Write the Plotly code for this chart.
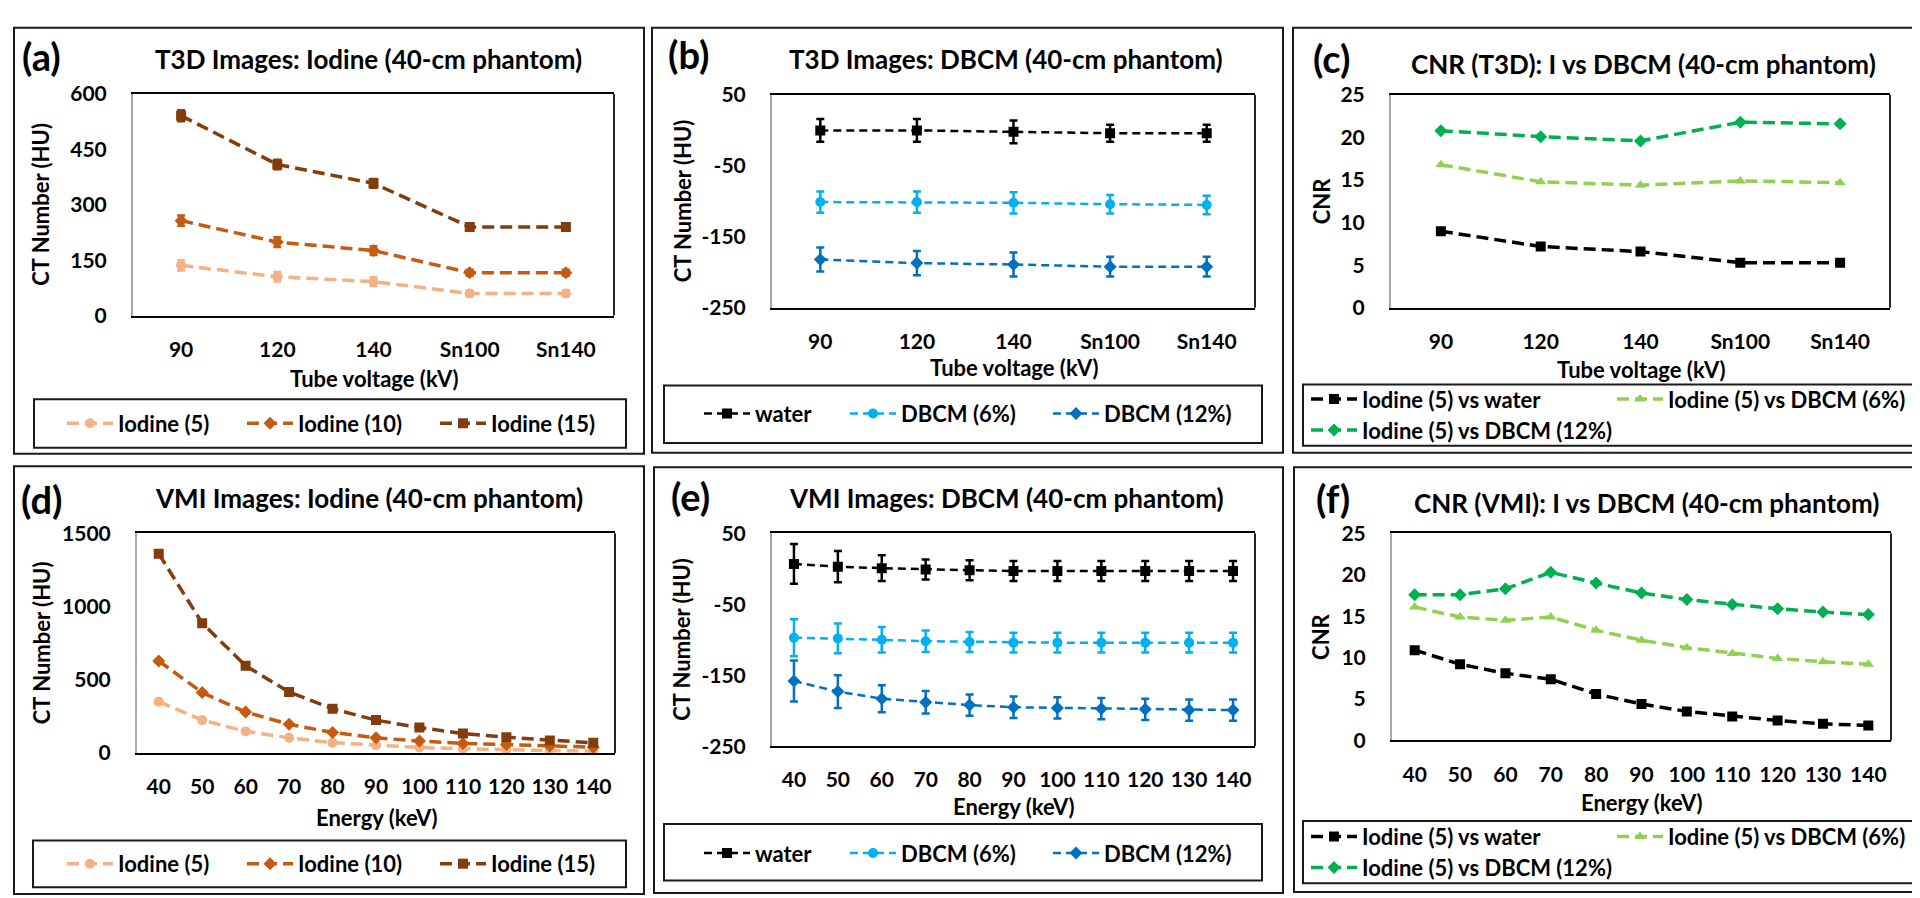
import plotly.graph_objects as go

# ---------------- data ----------------
kv_labels = ['90', '120', '140', 'Sn100', 'Sn140']
kev_labels = ['40', '50', '60', '70', '80', '90', '100', '110', '120', '130', '140']

# (a) T3D iodine
a_iodine5 = [136, 105, 92, 60, 60]
a_iodine10 = [257, 199, 176, 116, 116]
a_iodine15 = [541, 409, 358, 240, 240]
a_err5 = [14, 13, 12, 8, 8]
a_err10 = [14, 13, 12, 8, 8]
a_err15 = [15, 13, 12, 8, 8]

# (b) T3D DBCM
b_water = [0, 0, -2, -4, -4]
b_dbcm6 = [-101, -101, -102, -104, -105]
b_dbcm12 = [-182, -187, -189, -192, -192]
b_err_water = [16, 16, 16, 12, 12]
b_err6 = [15, 15, 15, 13, 13]
b_err12 = [17, 17, 17, 14, 14]

# (c) CNR T3D
c_water = [9.0, 7.2, 6.6, 5.3, 5.3]
c_dbcm6 = [16.8, 14.8, 14.4, 14.9, 14.7]
c_dbcm12 = [20.8, 20.1, 19.6, 21.8, 21.6]

# (d) VMI iodine
d_iodine5 = [351, 225, 148, 104, 71, 53, 38, 30, 22, 17, 13]
d_iodine10 = [629, 413, 280, 196, 141, 104, 82, 66, 58, 48, 40]
d_iodine15 = [1361, 887, 596, 417, 302, 225, 174, 133, 108, 86, 70]
d_err5 = [8, 6, 5, 4, 4, 3, 3, 3, 3, 3, 3]
d_err10 = [12, 9, 7, 6, 5, 4, 4, 4, 4, 4, 4]
d_err15 = [18, 12, 9, 7, 6, 5, 5, 5, 5, 5, 5]

# (e) VMI DBCM
e_water = [7, 3, 1, -1, -2, -3, -3, -3, -3, -3, -3]
e_dbcm6 = [-97, -98, -100, -102, -103, -104, -104, -104, -104, -104, -104]
e_dbcm12 = [-158, -173, -183, -188, -192, -195, -196, -197, -198, -199, -199]
e_err_water = [28, 22, 18, 14, 14, 14, 14, 14, 14, 14, 14]
e_err6 = [26, 21, 18, 15, 14, 14, 14, 14, 14, 14, 14]
e_err12 = [29, 23, 19, 16, 15, 15, 15, 15, 15, 15, 15]

# (f) CNR VMI
f_water = [10.9, 9.2, 8.1, 7.4, 5.6, 4.4, 3.5, 2.9, 2.4, 2.0, 1.8]
f_dbcm6 = [16.1, 14.9, 14.5, 14.9, 13.3, 12.1, 11.2, 10.5, 9.9, 9.5, 9.2]
f_dbcm12 = [17.6, 17.6, 18.3, 20.3, 19.0, 17.8, 17.0, 16.4, 15.9, 15.5, 15.2]

# y tick labels
ticks_a = [0, 150, 300, 450, 600]
ticks_b = [-250, -150, -50, 50]
ticks_cnr = [0, 5, 10, 15, 20, 25]
ticks_d = [0, 500, 1000, 1500]

iodine_names = ['Iodine (5)', 'Iodine (10)', 'Iodine (15)']
dbcm_names = ['water', 'DBCM (6%)', 'DBCM (12%)']
cnr_names = ['Iodine (5) vs water', 'Iodine (5) vs DBCM (6%)', 'Iodine (5) vs DBCM (12%)']

iodine_colors = ['#F4B183', '#C55A11', '#843C0C']
dbcm_colors = ['#000000', '#00B0F0', '#0070C0']
cnr_colors = ['#000000', '#92D050', '#00B050']

# ---------------- layout helpers ----------------
W, H = 1920, 898
FONT = 'Lato'


def X(px):
    return px / W


def Y(py):
    return 1 - py / H


ITEMW = 46

panels = [
    dict(label='(a)', title='T3D Images: Iodine (40-cm phantom)', cats=kv_labels,
         series=[a_iodine5, a_iodine10, a_iodine15], errs=[a_err5, a_err10, a_err15],
         names=iodine_names, colors=iodine_colors, symbols=['circle', 'diamond', 'square'],
         lw=3.5, dash='12px,6px', yr=[0, 600], yt=ticks_a,
         plot=(125, 74, 606, 302), box=(6, 6, 636, 444),
         lab=(33, 35), tit=(360, 38), ytit=(33, 'CT Number (HU)'), xtit=(367, 'Tube voltage (kV)'),
         lbox=(26, 388, 618, 438), leg=[(110, 413), (290, 413), (483, 413)]),
    dict(label='(b)', title='T3D Images: DBCM (40-cm phantom)', cats=kv_labels,
         series=[b_water, b_dbcm6, b_dbcm12], errs=[b_err_water, b_err6, b_err12],
         names=dbcm_names, colors=dbcm_colors, symbols=['square', 'circle', 'diamond'],
         lw=2.5, dash='8px,5px', yr=[-250, 50], yt=ticks_b,
         plot=(764, 75, 1247, 294), box=(644, 6, 1275, 443),
         lab=(680, 33), tit=(998, 38), ytit=(674, 'CT Number (HU)'), xtit=(355, 'Tube voltage (kV)'),
         lbox=(656, 374, 1254, 433), leg=[(747, 403), (893, 403), (1096, 403)]),
    dict(label='(c)', title='CNR (T3D): I vs DBCM (40-cm phantom)', cats=kv_labels,
         series=[c_water, c_dbcm6, c_dbcm12], errs=[None, None, None],
         names=cnr_names, colors=cnr_colors, symbols=['square', 'triangle-up', 'diamond'],
         lw=3.5, dash='12px,6px', yr=[0, 25], yt=ticks_cnr,
         plot=(1383, 75, 1882, 294), box=(1285, 6, 1915, 443),
         lab=(1323, 37), tit=(1635, 43), ytit=(1313, 'CNR'), xtit=(357, 'Tube voltage (kV)'),
         lbox=(1295, 373, 1907, 436), leg=[(1354, 388), (1660, 388), (1354, 420)]),
    dict(label='(d)', title='VMI Images: Iodine (40-cm phantom)', cats=kev_labels,
         series=[d_iodine5, d_iodine10, d_iodine15], errs=[d_err5, d_err10, d_err15],
         names=iodine_names, colors=iodine_colors, symbols=['circle', 'diamond', 'square'],
         lw=3.5, dash='12px,6px', yr=[0, 1500], yt=ticks_d,
         plot=(129, 526, 607, 752), box=(6, 457, 636, 897),
         lab=(33, 491), tit=(361, 490), ytit=(33, 'CT Number (HU)'), xtit=(818, 'Energy (keV)'),
         lbox=(25, 842, 618, 890), leg=[(110, 866), (290, 866), (483, 866)]),
    dict(label='(e)', title='VMI Images: DBCM (40-cm phantom)', cats=kev_labels,
         series=[e_water, e_dbcm6, e_dbcm12], errs=[e_err_water, e_err6, e_err12],
         names=dbcm_names, colors=dbcm_colors, symbols=['square', 'circle', 'diamond'],
         lw=2.5, dash='8px,5px', yr=[-250, 50], yt=ticks_b,
         plot=(764, 526, 1247, 745), box=(646, 458, 1275, 896),
         lab=(682, 488), tit=(998, 490), ytit=(674, 'CT Number (HU)'), xtit=(807, 'Energy (keV)'),
         lbox=(656, 825, 1254, 883), leg=[(747, 855), (893, 855), (1096, 855)]),
    dict(label='(f)', title='CNR (VMI): I vs DBCM (40-cm phantom)', cats=kev_labels,
         series=[f_water, f_dbcm6, f_dbcm12], errs=[None, None, None],
         names=cnr_names, colors=cnr_colors, symbols=['square', 'triangle-up', 'diamond'],
         lw=3.5, dash='12px,6px', yr=[0, 25], yt=ticks_cnr,
         plot=(1384, 526, 1883, 739), box=(1286, 458, 1917, 895),
         lab=(1325, 490), tit=(1638, 495), ytit=(1313, 'CNR'), xtit=(803, 'Energy (keV)'),
         lbox=(1295, 822, 1907, 886), leg=[(1354, 838), (1660, 838), (1354, 870)]),
]

fig = go.Figure()
layout = dict(width=W, height=H, margin=dict(l=0, r=0, t=0, b=0),
              paper_bgcolor='white', plot_bgcolor='white', showlegend=True,
              font=dict(family=FONT, size=21, color='#000000', weight=700))
shapes = []
annotations = []
leg_idx = 0

for i, p in enumerate(panels):
    n = i + 1
    xname = 'xaxis' if n == 1 else f'xaxis{n}'
    yname = 'yaxis' if n == 1 else f'yaxis{n}'
    xref = 'x' if n == 1 else f'x{n}'
    yref = 'y' if n == 1 else f'y{n}'
    x0, y0, x1, y1 = p['plot']
    layout[xname] = dict(domain=[X(x0), X(x1)], anchor=yref, type='category',
                         range=[-0.5, len(p['cats']) - 0.5], showgrid=False, zeroline=False,
                         showline=True, linecolor='#000000', linewidth=2, mirror=True,
                         ticks='', ticklabelstandoff=14, tickfont=dict(size=21, family=FONT, weight=700),
                         fixedrange=True)
    layout[yname] = dict(domain=[Y(y1), Y(y0)], anchor=xref, range=p['yr'],
                         tickmode='array', tickvals=p['yt'], ticktext=[str(v) for v in p['yt']],
                         showgrid=False, zeroline=False,
                         showline=True, linecolor='#A6A6A6', linewidth=2,
                         ticks='', ticklabelstandoff=20, tickfont=dict(size=21, family=FONT, weight=700),
                         fixedrange=True)
    # right edge of plot area
    shapes.append(dict(type='line', xref='paper', yref='paper', x0=X(x1), x1=X(x1), y0=Y(y0), y1=Y(y1),
                       line=dict(color='#262626', width=2)))
    # panel box
    bx0, by0, bx1, by1 = p['box']
    shapes.append(dict(type='rect', xref='paper', yref='paper', x0=X(bx0), x1=X(bx1), y0=Y(by1), y1=Y(by0),
                       line=dict(color='#1a1a1a', width=2)))
    # legend box
    lx0, ly0, lx1, ly1 = p['lbox']
    shapes.append(dict(type='rect', xref='paper', yref='paper', x0=X(lx0), x1=X(lx1), y0=Y(ly1), y1=Y(ly0),
                       line=dict(color='#1a1a1a', width=2)))

    for k in range(3):
        leg_idx += 1
        lname = 'legend' if leg_idx == 1 else f'legend{leg_idx}'
        err = p['errs'][k]
        tr = dict(x=p['cats'], y=p['series'][k], name=p['names'][k], mode='lines+markers',
                  xaxis=xref, yaxis=yref, legend=lname,
                  line=dict(color=p['colors'][k], width=p['lw'], dash=p['dash']),
                  marker=dict(color=p['colors'][k], symbol=p['symbols'][k], size=10),
                  hoverinfo='x+y')
        if err is not None:
            tr['error_y'] = dict(type='data', array=err, visible=True, color=p['colors'][k],
                                 thickness=2.5, width=4)
        fig.add_trace(go.Scatter(**tr))
        tx, ty = p['leg'][k]
        layout[lname] = dict(x=X(tx - (ITEMW + 10)), y=Y(ty), xanchor='left', yanchor='middle',
                             orientation='h', bgcolor='rgba(0,0,0,0)', borderwidth=0,
                             itemwidth=ITEMW, font=dict(size=22, family=FONT, weight=700),
                             itemclick=False, itemdoubleclick=False)

    # texts
    annotations.append(dict(text=p['label'], x=X(p['lab'][0]), y=Y(p['lab'][1]), xref='paper', yref='paper',
                            showarrow=False, xanchor='center', yanchor='middle',
                            font=dict(size=38, family=FONT, weight=700)))
    annotations.append(dict(text=p['title'], x=X(p['tit'][0]), y=Y(p['tit'][1]), xref='paper', yref='paper',
                            showarrow=False, xanchor='center', yanchor='middle',
                            font=dict(size=26, family=FONT, weight=700)))
    annotations.append(dict(text=p['ytit'][1], x=X(p['ytit'][0]), y=Y((y0 + y1) / 2), xref='paper',
                            yref='paper', showarrow=False, xanchor='center', yanchor='middle', textangle=-90,
                            font=dict(size=22, family=FONT, weight=700)))
    annotations.append(dict(text=p['xtit'][1], x=X((x0 + x1) / 2), y=Y(p['xtit'][0]), xref='paper',
                            yref='paper', showarrow=False, xanchor='center', yanchor='middle',
                            font=dict(size=22, family=FONT, weight=700)))

layout['shapes'] = shapes
layout['annotations'] = annotations
fig.update_layout(**layout)
fig.write_html('out.html')
